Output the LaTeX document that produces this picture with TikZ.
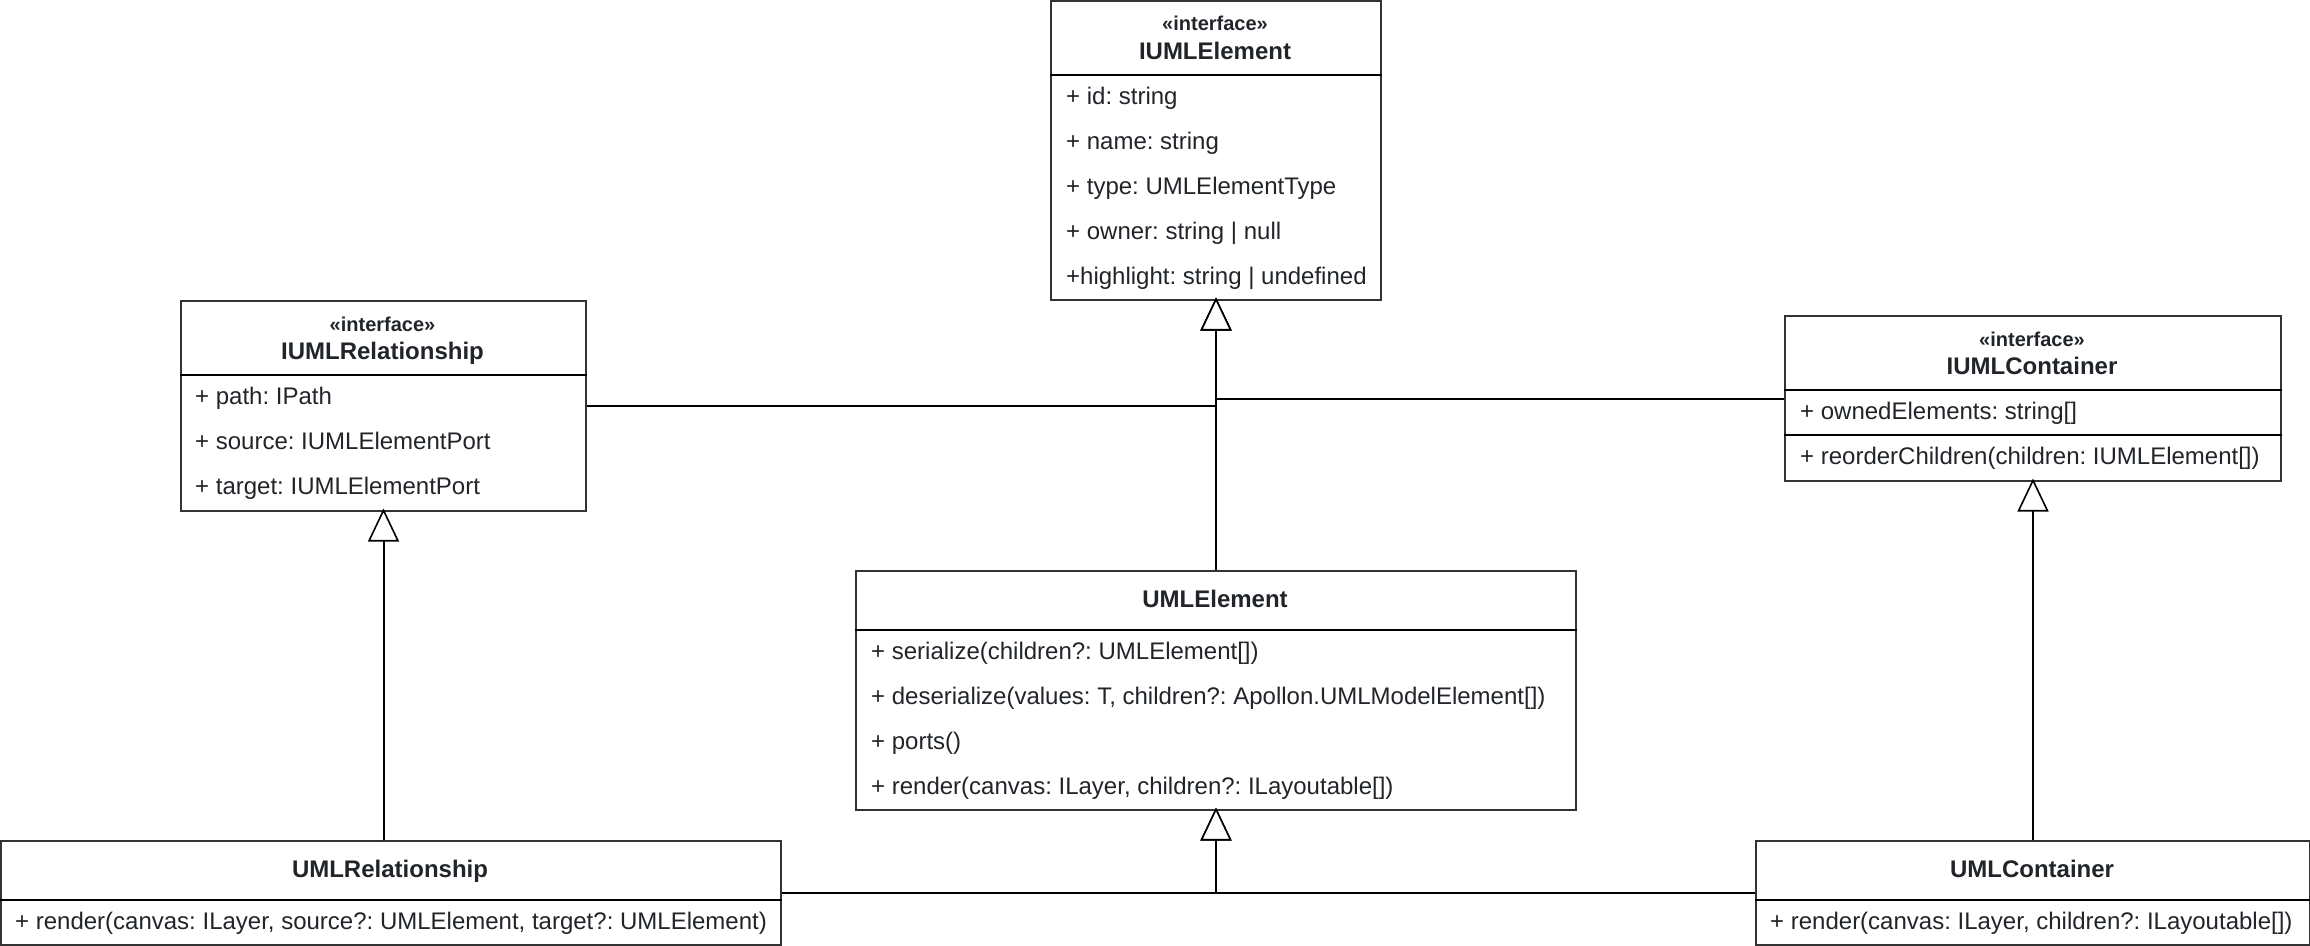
\documentclass[tikz,border=0pt]{standalone}
\usepackage{fontspec}
\setmainfont{Liberation Sans}
\usetikzlibrary{arrows.meta}
\definecolor{linec}{HTML}{333333}
\definecolor{textc}{HTML}{212529}
\frenchspacing
\tikzset{
  classbox/.style={draw=linec, line width=2pt, fill=white, anchor=north west, inner sep=0pt},
  sepline/.style={draw=black, line width=2pt},
  attr/.style={anchor=base west, inner sep=0pt, text=textc, font=\fontsize{24}{28}\selectfont},
  ster/.style={anchor=base, inner sep=0pt, text=textc, font=\fontsize{20}{24}\selectfont\bfseries},
  cname/.style={anchor=base, inner sep=0pt, text=textc, font=\fontsize{24}{28}\selectfont\bfseries},
  gen/.style={draw=black, line width=2pt, shorten >=-3.5pt, -{Triangle[open, fill=white, length=33pt, width=31pt, line width=1.6pt]}},
}
\begin{document}
\begin{tikzpicture}[x=1pt, y=-1pt]
\useasboundingbox (0,0) rectangle (2310,945);

% boxes
\node[classbox, minimum width=330pt, minimum height=299pt] (iel) at (1050,0) {};
\node[classbox, minimum width=405pt, minimum height=210pt] (irel) at (180,300) {};
\node[classbox, minimum width=496pt, minimum height=165pt] (icon) at (1784,315) {};
\node[classbox, minimum width=720pt, minimum height=239pt] (uel) at (855,570) {};
\node[classbox, minimum width=780pt, minimum height=104pt] (urel) at (0,840) {};
\node[classbox, minimum width=554pt, minimum height=104pt] (ucon) at (1755,840) {};

% separators
\draw[sepline] (iel.west |- 0,75) -- (iel.east |- 0,75);
\draw[sepline] (irel.west |- 0,375) -- (irel.east |- 0,375);
\draw[sepline] (icon.west |- 0,390) -- (icon.east |- 0,390);
\draw[sepline] (icon.west |- 0,435) -- (icon.east |- 0,435);
\draw[sepline] (uel.west |- 0,630) -- (uel.east |- 0,630);
\draw[sepline] (urel.west |- 0,900) -- (urel.east |- 0,900);
\draw[sepline] (ucon.west |- 0,900) -- (ucon.east |- 0,900);

% IUMLElement
\node[ster] (ielS) at (1215,30) {«interface»};
\node[cname] (ielN) at (1215,59) {IUMLElement};
\node[attr] (ielA1) at (1066,104) {+ id: string};
\node[attr] (ielA2) at (1066,149) {+ name: string};
\node[attr] (ielA3) at (1066,194) {+ type: UMLElementType};
\node[attr] (ielA4) at (1066,239) {+ owner: string | null};
\node[attr] (ielA5) at (1066,284) {+highlight: string | undefined};

% IUMLRelationship
\node[ster] (irelS) at (382.5,331) {«interface»};
\node[cname] (irelN) at (382.5,359) {IUMLRelationship};
\node[attr] (irelA1) at (195,404) {+ path: IPath};
\node[attr] (irelA2) at (195,449) {+ source: IUMLElementPort};
\node[attr] (irelA3) at (195,494) {+ target: IUMLElementPort};

% IUMLContainer
\node[ster] (iconS) at (2032,346) {«interface»};
\node[cname] (iconN) at (2032,374) {IUMLContainer};
\node[attr] (iconA1) at (1800,419) {+ ownedElements: string[]};
\node[attr] (iconA2) at (1800,464) {+ reorderChildren(children: IUMLElement[])};

% UMLElement
\node[cname] (uelN) at (1215,607) {UMLElement};
\node[attr] (uelA1) at (871,659) {+ serialize(children?: UMLElement[])};
\node[attr] (uelA2) at (871,704) {+ deserialize(values: T, children?: Apollon.UMLModelElement[])};
\node[attr] (uelA3) at (871,749) {+ ports()};
\node[attr] (uelA4) at (871,794) {+ render(canvas: ILayer, children?: ILayoutable[])};

% UMLRelationship
\node[cname] (urelN) at (390,877) {UMLRelationship};
\node[attr] (urelA1) at (15,929) {+ render(canvas: ILayer, source?: UMLElement, target?: UMLElement)};

% UMLContainer
\node[cname] (uconN) at (2032,877) {UMLContainer};
\node[attr] (uconA1) at (1770,929) {+ render(canvas: ILayer, children?: ILayoutable[])};

% connectors
\draw[gen] (irel.east) -| (iel.south);
\draw[gen] (icon.west) -| (iel.south);
\draw[gen] (uel.north) -- (iel.south);
\draw[gen] (urel.east) -| (uel.south);
\draw[gen] (ucon.west) -| (uel.south);
\draw[gen] (irel.south |- urel.north) -- (irel.south);
\draw[gen] (ucon.north) -- (icon.south);
\end{tikzpicture}
\end{document}
